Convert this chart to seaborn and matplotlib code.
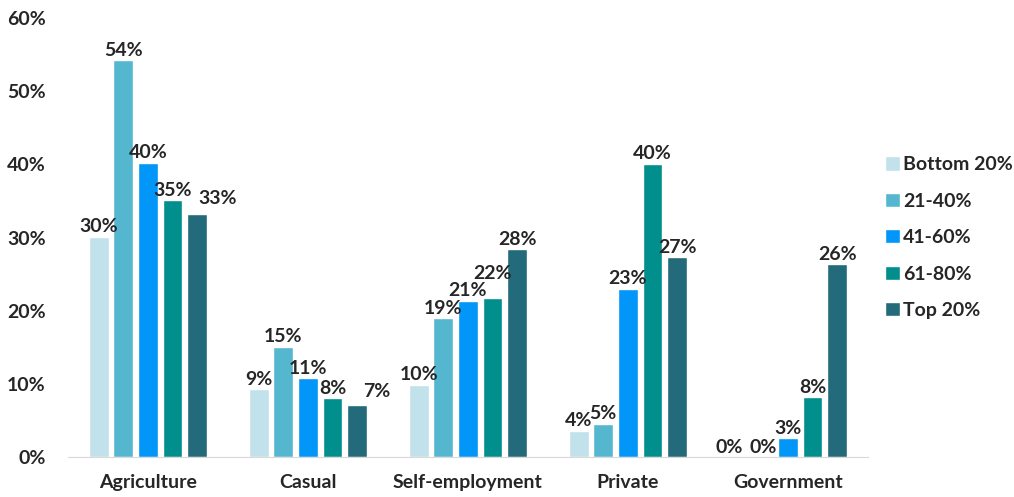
import pandas as pd
import numpy as np
import matplotlib.pyplot as plt
import seaborn as sns

# data (share of workers, %)
sectors = ['Agriculture', 'Casual', 'Self-employment', 'Private', 'Government']
groups = ['Bottom 20%', '21-40%', '41-60%', '61-80%', 'Top 20%']
bottom20 = [30.1, 9.3, 9.9, 3.6, 0.0]
q21_40 = [54.2, 15.1, 19.0, 4.6, 0.0]
q41_60 = [40.2, 10.8, 21.4, 23.0, 2.6]
q61_80 = [35.1, 8.1, 21.8, 40.1, 8.2]
top20 = [33.2, 7.2, 28.4, 27.3, 26.4]
colors = ['#C1E2EA', '#55B7CF', '#0196F8', '#008F8C', '#236B7A']

rows = []
for grp, vals in zip(groups, [bottom20, q21_40, q41_60, q61_80, top20]):
    for sec, v in zip(sectors, vals):
        rows.append({'sector': sec, 'group': grp, 'share': v / 100})
df = pd.DataFrame(rows)

sns.set_style('white')
plt.rcParams['font.family'] = ['Lato', 'DejaVu Sans']
fs = 14

fig = plt.figure(figsize=(10.14, 4.97), dpi=100)
ax = fig.add_axes([0.067, 0.08, 0.789, 0.884])

sns.barplot(data=df, x='sector', y='share', hue='group', order=sectors,
            hue_order=groups, palette=colors, width=0.77, gap=0.2,
            saturation=1, ax=ax)

for i, cont in enumerate(ax.containers):
    anns = ax.bar_label(cont, labels=[f'{b.get_height():.0%}' for b in cont],
                        padding=1, fontsize=fs, fontweight='bold')
    # nudges like the manually placed labels in the original
    if i == 0:
        anns[4].set_position((-7, 1))
    if i == 3:
        anns[2].set_position((0, 11))
    if i == 4:
        anns[0].set_position((15, 5))
        anns[1].set_position((14, 3))

ax.set_ylim(0, 0.6)
ticks = np.arange(0, 0.61, 0.1)
ax.set_yticks(ticks)
ax.set_yticklabels([f'{t:.0%}' for t in ticks], fontsize=fs, fontweight='bold')
ax.set_xlim(-0.5, 4.5)
for lab in ax.get_xticklabels():
    lab.set_fontsize(fs)
    lab.set_fontweight('bold')
ax.set_xlabel('')
ax.set_ylabel('')
ax.tick_params(axis='x', length=0, pad=12)
ax.tick_params(axis='y', length=0, pad=16)
sns.despine(ax=ax, left=True)
ax.spines['bottom'].set_color('#D9D9D9')

ax.legend(loc='center left', bbox_to_anchor=(1.0, 0.5), frameon=False,
          handlelength=0.75, handleheight=0.75, handletextpad=0.15,
          labelspacing=1.0, prop={'weight': 'bold', 'size': fs})

fig.savefig('out.png', dpi=100)
